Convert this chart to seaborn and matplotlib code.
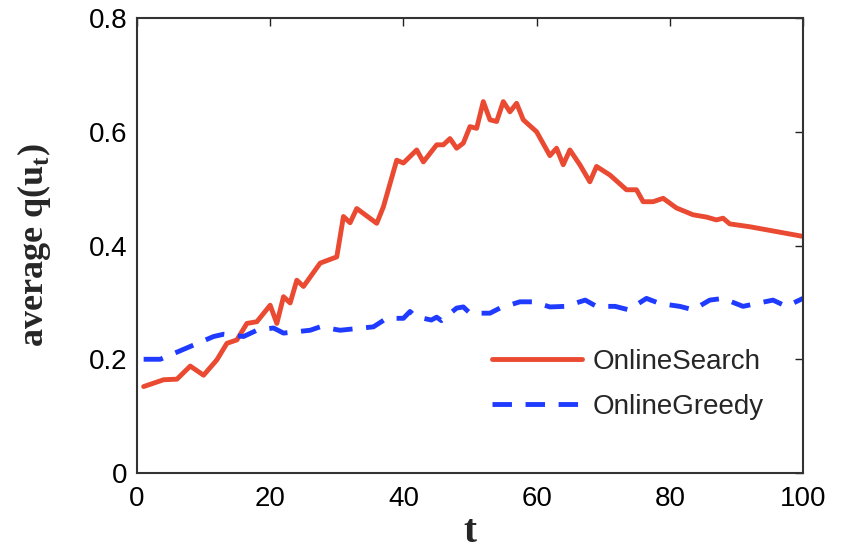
import matplotlib
matplotlib.use("Agg")
import matplotlib.pyplot as plt
import seaborn as sns
import pandas as pd

# OnlineSearch: average q(u_t) over time
search_t = [1, 4, 6, 8, 10, 12, 13.5, 15, 16.5, 18, 20, 21, 22, 23, 24, 25, 27.5, 30, 31, 32,
            33, 36, 37, 39, 40, 42, 43, 45, 46, 47, 48, 49, 50, 51, 52, 53, 54, 55, 56, 57,
            58, 60, 62, 63, 64, 65, 66.5, 68, 69, 71, 73.5, 75, 76, 77.5, 79, 81, 83.5, 85.5,
            87, 88, 89, 92, 100]
search_q = [0.152, 0.164, 0.165, 0.188, 0.172, 0.199, 0.228, 0.234, 0.263, 0.266, 0.295, 0.263,
            0.310, 0.299, 0.339, 0.328, 0.369, 0.380, 0.451, 0.440, 0.465, 0.439, 0.468, 0.550,
            0.545, 0.568, 0.547, 0.577, 0.577, 0.588, 0.571, 0.580, 0.609, 0.606, 0.653, 0.621,
            0.618, 0.653, 0.635, 0.650, 0.621, 0.600, 0.558, 0.571, 0.542, 0.568, 0.542, 0.512,
            0.539, 0.524, 0.498, 0.498, 0.477, 0.477, 0.483, 0.466, 0.454, 0.450, 0.445, 0.448,
            0.438, 0.433, 0.416]

# OnlineGreedy: average q(u_t) over time
greedy_t = [1, 3.5, 6.5, 8.5, 11.5, 13, 16, 18, 20.5, 22, 26, 27.5, 30.5, 33, 35.5, 37.5, 40,
            41, 41.8, 44.2, 45, 45.7, 48, 49, 50, 53, 54.5, 57.5, 59.5, 62, 64.3, 67.3, 69,
            71.8, 73.8, 76.5, 78.5, 81.5, 83.5, 86, 88, 91, 93, 95.5, 97.5, 100]
greedy_q = [0.200, 0.200, 0.215, 0.225, 0.240, 0.244, 0.240, 0.251, 0.255, 0.246, 0.251, 0.257,
            0.251, 0.254, 0.257, 0.272, 0.272, 0.284, 0.275, 0.269, 0.274, 0.268, 0.290, 0.292,
            0.281, 0.281, 0.290, 0.301, 0.301, 0.292, 0.293, 0.304, 0.293, 0.293, 0.287, 0.307,
            0.298, 0.293, 0.287, 0.304, 0.307, 0.293, 0.298, 0.304, 0.293, 0.307]

x_ticks = [0, 20, 40, 60, 80, 100]
y_ticks = [0, 0.2, 0.4, 0.6, 0.8]
y_tick_labels = ["0", "0.2", "0.4", "0.6", "0.8"]

sns.set_style("white")
plt.rcParams["font.family"] = ["Liberation Sans", "DejaVu Sans"]
plt.rcParams["mathtext.fontset"] = "custom"
plt.rcParams["mathtext.rm"] = "Liberation Serif"
plt.rcParams["mathtext.bf"] = "Liberation Serif:bold"

search_df = pd.DataFrame({"t": search_t, "q": search_q})
greedy_df = pd.DataFrame({"t": greedy_t, "q": greedy_q})

fig = plt.figure(figsize=(8.44, 5.55), dpi=100)
ax = fig.add_axes([0.1623, 0.1477, 0.7891, 0.8199])

sns.lineplot(data=search_df, x="t", y="q", ax=ax, color="#EA4A32", linewidth=3.5,
             estimator=None, label="OnlineSearch")
sns.lineplot(data=greedy_df, x="t", y="q", ax=ax, color="#1F3BFF", linewidth=3.5,
             estimator=None, label="OnlineGreedy")
ax.lines[1].set_dashes([4.0, 2.8])

ax.set_xlim(0, 100)
ax.set_ylim(0, 0.8)
ax.set_xticks(x_ticks)
ax.set_xticklabels([str(v) for v in x_ticks])
ax.set_yticks(y_ticks)
ax.set_yticklabels(y_tick_labels)
ax.tick_params(axis="both", which="both", direction="in", length=6, width=1.0,
               top=True, right=True, labelsize=20, pad=7, colors="#222222",
               labelcolor="black")
ax.tick_params(axis="x", pad=9)
for sp in ax.spines.values():
    sp.set_visible(True)
    sp.set_color("#333333")
    sp.set_linewidth(1.5)

ax.set_xlabel("t", fontsize=28, fontweight="bold", family="Liberation Serif", labelpad=2)
ax.set_ylabel(r"average q(u$_{\mathbf{t}}$)", fontsize=26, fontweight="bold",
              family="Liberation Serif", labelpad=26)

leg = ax.legend(loc="center left", bbox_to_anchor=(0.533, 0.195), frameon=False,
                fontsize=20, handlelength=3.25, handletextpad=0.36, labelspacing=0.7,
                borderpad=0, borderaxespad=0)
leg.get_lines()[1].set_dashes([4.0, 2.8])

fig.savefig("out.png", dpi=100, facecolor="white")
